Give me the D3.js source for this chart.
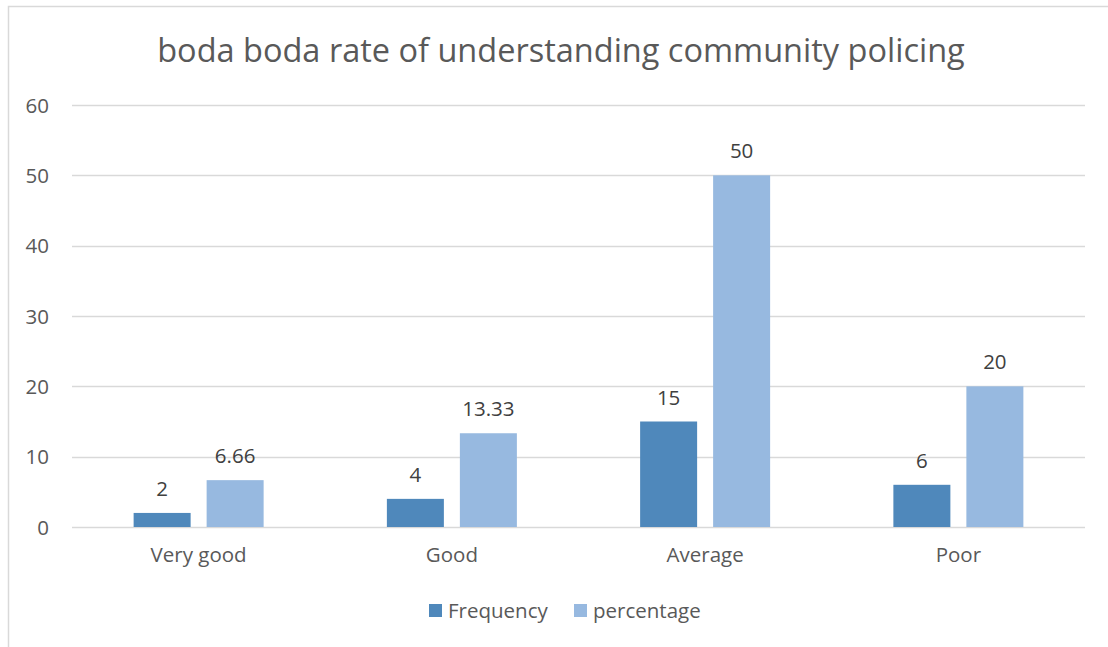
<!DOCTYPE html>
<html>
<head>
<meta charset="utf-8">
<script src="https://cdn.jsdelivr.net/npm/d3@7"></script>
<style>
  body { margin: 0; background: #fff; }
  svg { display: block; font-family: "Open Sans", "Noto Sans", sans-serif; }
</style>
</head>
<body>
<svg id="chart" width="1108" height="647"></svg>
<script>
const categories = ["Very good", "Good", "Average", "Poor"];
const frequency = [2, 4, 15, 6];
const percentage = [6.66, 13.33, 50, 20];
const seriesNames = ["Frequency", "percentage"];
const yTicks = [0, 10, 20, 30, 40, 50, 60];

const colors = ["#4f88bb", "#97b9e0"];
const textColor = "#595959";
const fontStack = "'Open Sans', 'Noto Sans', sans-serif";

const svg = d3.select("#chart");

// chart area frame
svg.append("path")
  .attr("d", "M8.5,647 V6.5 H1108")
  .attr("fill", "none")
  .attr("stroke", "#d9d9d9")
  .attr("stroke-width", 1.5);

const plot = { left: 72, right: 1085, top: 105, bottom: 527 };

const x = d3.scaleBand().domain(categories).range([plot.left, plot.right]);
const xs = d3.scaleBand().domain(seriesNames).range([0, 130]).paddingInner(16 / 73);
const y = d3.scaleLinear().domain([0, 60]).range([plot.bottom, plot.top]);

// title
svg.append("text")
  .attr("x", 561).attr("y", 62)
  .attr("text-anchor", "middle")
  .attr("fill", textColor)
  .style("font-size", "32.5px")
  .text("boda boda rate of understanding community policing");

// gridlines
svg.append("g").selectAll("line").data(yTicks).join("line")
  .attr("x1", plot.left).attr("x2", plot.right)
  .attr("y1", d => Math.round(y(d)) + 0.5).attr("y2", d => Math.round(y(d)) + 0.5)
  .attr("stroke", "#d9d9d9").attr("stroke-width", 1.3);

// y axis labels
const yAxis = d3.axisLeft(y).tickValues(yTicks).tickSize(0).tickPadding(0);
const gy = svg.append("g").attr("transform", `translate(49,0)`).call(yAxis);
gy.select(".domain").remove();
gy.selectAll("text").attr("fill", textColor).style("font-size", "20.5px").attr("dy", "0.35em")
  .style("font-family", fontStack);

// x axis labels
const xAxis = d3.axisBottom(x).tickSize(0).tickPadding(0);
const gx = svg.append("g").attr("transform", `translate(0,547)`).call(xAxis);
gx.select(".domain").remove();
gx.selectAll("text").attr("fill", textColor).style("font-size", "20.5px").attr("dy", "0.71em")
  .style("font-family", fontStack);

// bars
const rows = categories.map((c, i) => ({ cat: c, vals: [frequency[i], percentage[i]] }));
const groups = svg.append("g").selectAll("g").data(rows).join("g")
  .attr("transform", d => `translate(${x(d.cat) + (x.bandwidth() - 130) / 2},0)`);

const cells = d => d.vals.map((v, j) => ({ v, s: seriesNames[j], j }));

groups.selectAll("rect").data(cells).join("rect")
  .attr("x", d => xs(d.s))
  .attr("width", xs.bandwidth())
  .attr("y", d => y(d.v))
  .attr("height", d => y(0) - y(d.v))
  .attr("fill", d => colors[d.j]);

groups.selectAll("text.lbl").data(cells).join("text")
  .attr("class", "lbl")
  .attr("x", d => xs(d.s) + xs.bandwidth() / 2)
  .attr("y", d => y(d.v) - 17)
  .attr("text-anchor", "middle")
  .attr("fill", "#404040")
  .style("font-size", "20.5px")
  .text(d => d.v);

// legend
const legend = svg.append("g").attr("transform", "translate(429,611)");
const legendX = [0, 145];
seriesNames.forEach((name, j) => {
  const g = legend.append("g").attr("transform", `translate(${legendX[j]},0)`);
  g.append("rect").attr("x", 0).attr("y", -7).attr("width", 13).attr("height", 13).attr("fill", colors[j]);
  g.append("text").attr("x", 19).attr("y", 0).attr("dy", "0.35em")
    .attr("fill", textColor).style("font-size", "20.5px").text(name);
});
</script>
</body>
</html>
